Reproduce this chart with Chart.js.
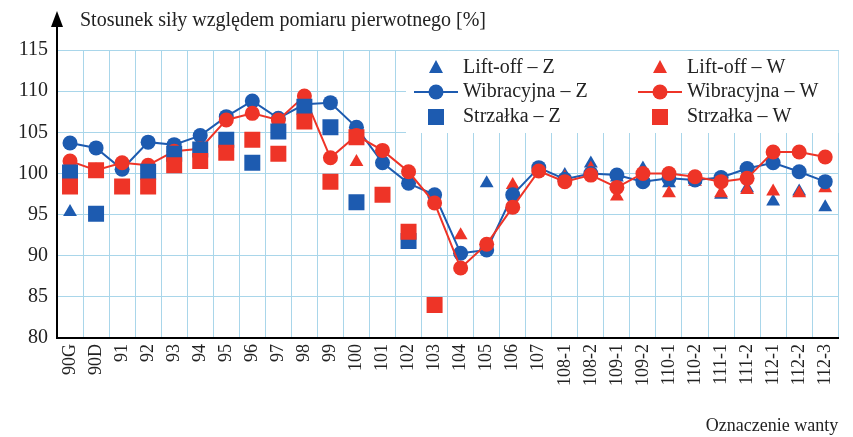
<!DOCTYPE html>
<html>
<head>
<meta charset="utf-8">
<script src="https://cdn.jsdelivr.net/npm/chart.js@4.4.1/dist/chart.umd.min.js"></script>
<style>
  html, body { margin: 0; padding: 0; background: #fff; }
</style>
</head>
<body>
<canvas id="canvas" width="853" height="437"></canvas>
<script>
// oznaczenia want
const labels = ['90G', '90D', '91', '92', '93', '94', '95', '96', '97', '98', '99', '100', '101', '102', '103',
  '104', '105', '106', '107', '108-1', '108-2', '109-1', '109-2', '110-1', '110-2', '111-1', '111-2',
  '112-1', '112-2', '112-3'];

const liftOffZ = [95.3, null, null, null, null, null, null, null, null, null, null, null, null, null, null,
  null, 98.8, null, null, 99.8, 101.2, 99.5, 100.6, 98.8, 99.2, 97.4, 98.2, 96.6, 97.8, 95.9];
const liftOffW = [null, null, null, null, null, null, null, null, null, null, null, 101.4, null, null, null,
  92.5, null, 98.6, null, 99.5, 100.6, 97.2, 99.8, 97.6, 99.0, 97.6, 98.0, 97.8, 97.6, 98.2];

const wibrZ = [103.7, 103.1, 100.5, 103.8, 103.5, 104.6, 106.9, 108.8, 106.7, 108.4, 108.6, 105.6, 101.3,
  98.8, 97.4, 90.3, 90.7, 97.4, 100.7, 99.3, 100.0, 99.8, 99.0, 99.4, 99.2, 99.5, 100.6, 101.3, 100.2, 99.0];
const wibrW = [101.5, 100.4, 101.3, 101.0, 102.7, 103.0, 106.5, 107.3, 106.5, 109.4, 101.9, 104.6, 102.8,
  100.2, 96.4, 88.5, 91.4, 95.9, 100.3, 99.0, 99.8, 98.3, 100.0, 100.0, 99.6, 99.0, 99.4, 102.6, 102.6, 102.0];

const strzZ = [100.1, 95.1, null, 100.2, 102.4, 102.9, 104.1, 101.3, 105.1, 108.1, 105.6, 96.5, null,
  91.8, null, null, null, null, null, null, null, null, null, null, null, null, null, null, null, null];
const strzW = [98.4, 100.4, 98.4, 98.4, 101.0, 101.5, 102.5, 104.1, 102.4, 106.3, 99.0, 104.4, 97.4,
  92.9, 84.0, null, null, null, null, null, null, null, null, null, null, null, null, null, null, null];

const blue = '#1d5bb0';
const red = '#ee3427';
const serif = "'Liberation Serif', 'DejaVu Serif', serif";

const legendItems = [
  { text: 'Lift-off – Z', color: blue, style: 'triangle' },
  { text: 'Wibracyjna – Z', color: blue, style: 'circle' },
  { text: 'Strzałka – Z', color: blue, style: 'rect' },
  { text: 'Lift-off – W', color: red, style: 'triangle' },
  { text: 'Wibracyjna – W', color: red, style: 'circle' },
  { text: 'Strzałka – W', color: red, style: 'rect' },
];

function marker(ctx, style, color, x, y) {
  ctx.fillStyle = color;
  ctx.beginPath();
  if (style === 'triangle') {
    ctx.moveTo(x, y - 8);
    ctx.lineTo(x + 7, y + 5);
    ctx.lineTo(x - 7, y + 5);
    ctx.closePath();
  } else if (style === 'circle') {
    ctx.arc(x, y, 7.5, 0, Math.PI * 2);
  } else {
    ctx.rect(x - 8, y - 8, 16, 16);
  }
  ctx.fill();
}

const extras = {
  id: 'extras',
  afterDraw(chart) {
    const ctx = chart.ctx;
    const area = chart.chartArea;
    ctx.save();
    // strzalka osi y
    ctx.strokeStyle = '#000';
    ctx.lineWidth = 2;
    ctx.beginPath();
    ctx.moveTo(area.left, area.top);
    ctx.lineTo(area.left, 22);
    ctx.stroke();
    ctx.fillStyle = '#000';
    ctx.beginPath();
    ctx.moveTo(area.left, 11);
    ctx.lineTo(area.left + 6, 27);
    ctx.lineTo(area.left - 6, 27);
    ctx.closePath();
    ctx.fill();

    ctx.font = '20px ' + serif;
    ctx.textBaseline = 'middle';
    ctx.fillStyle = '#222';
    ctx.fillText('Stosunek siły względem pomiaru pierwotnego [%]', 80, 21);

    // legenda
    ctx.fillStyle = '#fff';
    ctx.fillRect(406, 51, area.right - 406, 82);
    const cols = [436, 660];
    const rows = [68, 92, 117];
    legendItems.forEach((it, i) => {
      const cx = cols[Math.floor(i / 3)];
      const cy = rows[i % 3];
      if (it.style === 'circle') {
        ctx.strokeStyle = it.color;
        ctx.lineWidth = 2;
        ctx.beginPath();
        ctx.moveTo(cx - 22, cy);
        ctx.lineTo(cx + 22, cy);
        ctx.stroke();
      }
      marker(ctx, it.style, it.color, cx, cy);
      ctx.fillStyle = '#222';
      ctx.fillText(it.text, cx + 27, cy);
    });
    ctx.restore();
  }
};

const ctx = document.getElementById('canvas').getContext('2d');
const chart = new Chart(ctx, {
  type: 'line',
  data: {
    labels: labels,
    datasets: [
      { label: 'Lift-off – Z', data: liftOffZ, showLine: false, pointStyle: 'triangle', pointRadius: 8,
        backgroundColor: blue, borderColor: blue, pointBorderWidth: 0, order: 6 },
      { label: 'Wibracyjna – Z', data: wibrZ, pointStyle: 'circle', pointRadius: 7.5,
        backgroundColor: blue, borderColor: blue, borderWidth: 2, pointBorderWidth: 0, order: 4 },
      { label: 'Strzałka – Z', data: strzZ, showLine: false, pointStyle: 'rect', pointRadius: 11.3,
        backgroundColor: blue, borderColor: blue, pointBorderWidth: 0, order: 2 },
      { label: 'Lift-off – W', data: liftOffW, showLine: false, pointStyle: 'triangle', pointRadius: 8,
        backgroundColor: red, borderColor: red, pointBorderWidth: 0, order: 5 },
      { label: 'Wibracyjna – W', data: wibrW, pointStyle: 'circle', pointRadius: 7.5,
        backgroundColor: red, borderColor: red, borderWidth: 2, pointBorderWidth: 0, order: 3 },
      { label: 'Strzałka – W', data: strzW, showLine: false, pointStyle: 'rect', pointRadius: 11.3,
        backgroundColor: red, borderColor: red, pointBorderWidth: 0, order: 1 },
    ]
  },
  options: {
    responsive: false,
    animation: false,
    layout: { padding: { top: 50, right: 11, left: 0, bottom: 0 } },
    plugins: {
      legend: { display: false },
      tooltip: { enabled: false },
    },
    scales: {
      x: {
        offset: true,
        grid: { offset: true, color: '#a9d6ea', lineWidth: 1, drawTicks: false },
        border: { color: '#000', width: 2 },
        ticks: {
          minRotation: 90, maxRotation: 90, autoSkip: false, padding: 6,
          color: '#222', font: { family: serif, size: 18 }
        },
        title: {
          display: true, text: 'Oznaczenie wanty', align: 'end',
          color: '#222', font: { family: serif, size: 18 }, padding: 0
        },
        afterFit(scale) { scale.height = 99; }
      },
      y: {
        min: 80, max: 115,
        ticks: { stepSize: 5, padding: 9, color: '#222', font: { family: serif, size: 20 } },
        grid: { color: '#a9d6ea', lineWidth: 1, drawTicks: false },
        border: { color: '#000', width: 2 },
        afterFit(scale) { scale.width = 57; }
      }
    }
  },
  plugins: [extras]
});
</script>
</body>
</html>
